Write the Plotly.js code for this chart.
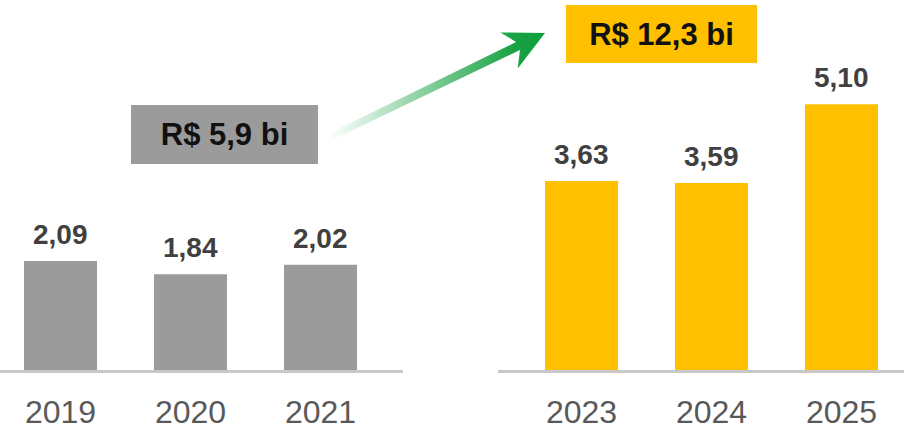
<!DOCTYPE html>
<html>
<head>
<meta charset="utf-8">
<script src="https://cdn.plot.ly/plotly-3.0.1.min.js"></script>
<style>
  html, body { margin: 0; padding: 0; background: #ffffff; }
  #chart { width: 904px; height: 433px; }
</style>
</head>
<body>
<div id="chart"></div>
<script>
// ---- Data ----
const yearsBefore = ['2019', '2020', '2021'];
const valuesBefore = [2.09, 1.84, 2.02];
const yearsAfter = ['2023', '2024', '2025'];
const valuesAfter = [3.63, 3.59, 5.10];
const totalBefore = 'R$ 5,9 bi';
const totalAfter = 'R$ 12,3 bi';

// ---- Styles ----
const FONT = 'Liberation Sans, Arial, sans-serif';
const GRAY = '#9b9b9b';
const GOLD = '#ffc000';
const W = 904, H = 433;
const PLOT_BOTTOM = 370;          // pixel row of the baseline
const PX_PER_UNIT = 52.1;
const fmt = v => v.toFixed(2).replace('.', ',');

const traces = [
  { type: 'bar', x: yearsBefore, y: valuesBefore, xaxis: 'x', yaxis: 'y',
    marker: { color: GRAY }, width: 0.5615, hoverinfo: 'skip' },
  { type: 'bar', x: yearsAfter, y: valuesAfter, xaxis: 'x2', yaxis: 'y',
    marker: { color: GOLD }, width: 0.5615, hoverinfo: 'skip' }
];

// ---- Decorative gradient arrow (pixel coordinates on an overlay axis) ----
const tip = [545, 33], tail = [330, 137];
const dx = tip[0] - tail[0], dy = tip[1] - tail[1];
const L = Math.hypot(dx, dy);
const u = [dx / L, dy / L], n = [-u[1], u[0]];
const P = (d, o) => [tip[0] - d * u[0] + o * n[0], tip[1] - d * u[1] + o * n[1]];
const arrowPts = [P(L, 3.5), P(30, 4.5), P(40, 20), P(0, 0), P(40, -20), P(30, -4.5), P(L, -3.5), P(L, 3.5)];
traces.push({
  type: 'scatter', mode: 'none', xaxis: 'x3', yaxis: 'y3',
  x: arrowPts.map(p => p[0]), y: arrowPts.map(p => p[1]),
  fill: 'toself', fillcolor: 'rgba(14,158,58,0.6)',
  fillgradient: { type: 'horizontal', colorscale: [
    [0, 'rgba(14,158,58,0)'], [0.45, 'rgba(14,158,58,0.5)'],
    [0.85, 'rgba(14,158,58,0.95)'], [1, 'rgb(14,158,58)']] },
  hoverinfo: 'skip', showlegend: false
});

// ---- Annotations ----
const annotations = [];
const valueLabel = (xref, idx, v) => ({
  xref: xref, yref: 'y', x: idx, y: v, text: fmt(v),
  showarrow: false, yanchor: 'bottom', yshift: 9,
  font: { family: FONT, size: 28, color: '#404040', weight: 'bold' }
});
valuesBefore.forEach((v, i) => annotations.push(valueLabel('x', i, v)));
valuesAfter.forEach((v, i) => annotations.push(valueLabel('x2', i, v)));

function box(text, x0, x1, y0, y1, color) {
  return {
    xref: 'paper', yref: 'paper',
    x: (x0 + x1) / 2 / W, y: (PLOT_BOTTOM - (y0 + y1) / 2) / PLOT_BOTTOM,
    xanchor: 'center', yanchor: 'middle',
    width: x1 - x0, height: y1 - y0, borderpad: 0, borderwidth: 0,
    bgcolor: color, text: text, showarrow: false, valign: 'middle', align: 'center',
    font: { family: FONT, size: 31, color: '#111111', weight: 'bold' }
  };
}
annotations.push(box(totalBefore, 131, 318, 105, 164, GRAY));
annotations.push(box(totalAfter, 566, 757, 5, 63, GOLD));

const xCommon = {
  type: 'category', showgrid: false, zeroline: false, ticks: '',
  showline: true, linecolor: '#c8c8c8', linewidth: 3,
  tickfont: { family: FONT, size: 32, color: '#595959' },
  ticklabelstandoff: 12, fixedrange: true, anchor: 'y'
};

const layout = {
  width: W, height: H,
  margin: { l: 0, r: 0, t: 0, b: H - PLOT_BOTTOM, pad: 0 },
  paper_bgcolor: '#ffffff', plot_bgcolor: 'rgba(0,0,0,0)',
  showlegend: false,
  xaxis: Object.assign({}, xCommon, { domain: [0, 403 / W], range: [-60.5 / 130, (403 - 60.5) / 130] }),
  xaxis2: Object.assign({}, xCommon, { domain: [498 / W, 1], range: [-(581.5 - 498) / 130, (904 - 581.5) / 130] }),
  yaxis: { range: [0, PLOT_BOTTOM / PX_PER_UNIT], visible: false, fixedrange: true },
  xaxis3: { domain: [0, 1], range: [0, W], visible: false, anchor: 'y3', fixedrange: true },
  yaxis3: { domain: [0, 1], range: [PLOT_BOTTOM, 0], visible: false, anchor: 'x3', overlaying: 'y', fixedrange: true },
  annotations: annotations
};

Plotly.newPlot('chart', traces, layout, { displayModeBar: false, staticPlot: true });
</script>
</body>
</html>
